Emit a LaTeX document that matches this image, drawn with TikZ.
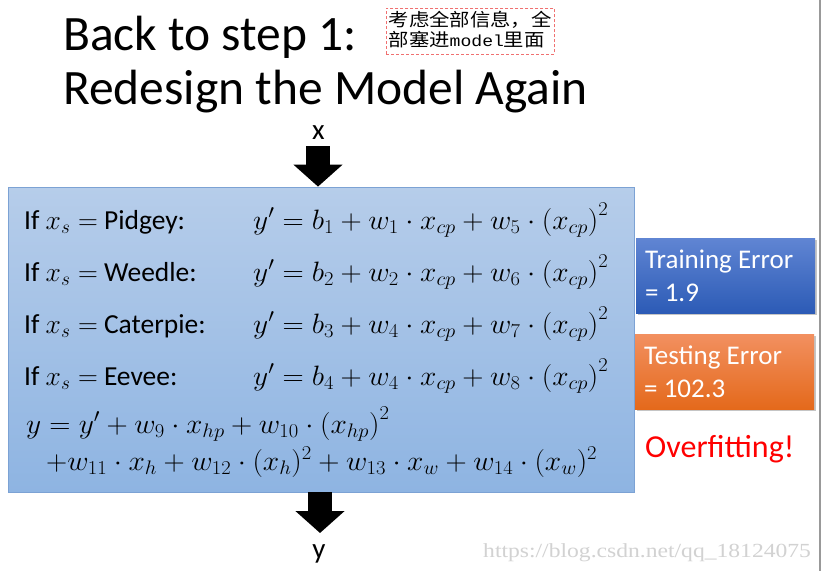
\RequirePackage{fix-cm}
\documentclass[tikz,border=0pt]{standalone}
\usepackage{fontspec}
\usepackage{graphicx}
\setmainfont{Carlito}
\newfontfamily\cjk{Noto Sans CJK SC}
\newfontfamily\wmfont{Liberation Serif}
\newfontfamily\notemono{Liberation Mono}
\usetikzlibrary{shadows,arrows.meta}
\definecolor{boxtop}{HTML}{B6CDEA}
\definecolor{boxbot}{HTML}{8EB4E2}
\definecolor{boxedge}{HTML}{7CA2D4}
\definecolor{traintop}{HTML}{6085D3}
\definecolor{trainbot}{HTML}{2C5BB6}
\definecolor{testtop}{HTML}{F29060}
\definecolor{testbot}{HTML}{E4691B}
\definecolor{wm}{HTML}{D2D2D2}
\definecolor{notered}{HTML}{F07070}
\newcommand{\eqx}[1]{\scalebox{1.05}[1]{$#1$}}
\tikzset{
  rowtext/.style={anchor=base west, inner sep=0pt, font=\fontsize{27.5}{30}\selectfont},
  eqtext/.style={anchor=base west, inner sep=0pt, font=\fontsize{28}{30}\selectfont},
  errbox/.style={rectangle, minimum width=179pt, minimum height=75pt, inner sep=0pt,
     drop shadow={shadow xshift=1.5pt, shadow yshift=-2pt, opacity=0.45}},
  errtext/.style={anchor=base west, inner sep=0pt, text=white, font=\fontsize{27}{30}\selectfont},
  blockarrow/.style={line width=24pt, -{Triangle[length=22pt,width=48pt]}},
  label/.style={inner sep=0pt, font=\fontsize{29}{30}\selectfont},
  notetext/.style={anchor=base west, inner sep=0pt, font=\cjk\fontsize{18}{20}\selectfont},
}
\begin{document}
\begin{tikzpicture}[x=1pt,y=-1pt]
\useasboundingbox (0,0) rectangle (824,571);
\fill[white] (0,0) rectangle (824,571);
% right frame line
\fill[black!40] (818.5,0) rectangle (820.5,571);
% title
\node[anchor=base west, inner sep=0pt, font=\fontsize{49.5}{52}\selectfont] (t1) at (63,50) {Back to step 1:};
\node[anchor=base west, inner sep=0pt, font=\fontsize{49.5}{52}\selectfont] (t2) at (63,104) {Redesign the Model Again};
% chinese note
\node[draw=notered, densely dashed, line width=0.5pt, anchor=north west, minimum width=168pt, minimum height=46pt, inner sep=0pt] (note) at (386,8) {};
\node[notetext] (n1) at (388.5,26) {\scalebox{1.13}[1]{考虑全部信息，全}};
\node[notetext] (n2) at (388.5,46) {\scalebox{1.13}[1]{部塞进{\notemono\fontsize{16}{20}\selectfont model}里面}};
% main box
\node[draw=boxedge, line width=0.8pt, top color=boxtop, bottom color=boxbot, rectangle, minimum width=626pt, minimum height=305pt, inner sep=0pt] (box) at (321,339.5) {};
% x label and arrow
\node[label, anchor=base] (xlab) at (318.5,139) {x};
\coordinate (xtop) at (318,146);
\draw[blockarrow] (xtop) -- (xtop |- box.north);
% y output
\coordinate (ybot) at (320,533);
\draw[blockarrow] (ybot |- box.south) -- (ybot);
\node[label, anchor=base] (ylab) at (319,558) {y};
% rows
\node[rowtext] (c1) at (24,229) {If $x_s=$ Pidgey:};
\node[rowtext] (c2) at (24,281) {If $x_s=$ Weedle:};
\node[rowtext] (c3) at (24,333) {If $x_s=$ Caterpie:};
\node[rowtext] (c4) at (24,385) {If $x_s=$ Eevee:};
\node[eqtext] (e1) at (253,229) {\eqx{y' = b_1 + w_1\cdot x_{cp} + w_5\cdot \bigl(x_{cp}\bigr)^2}};
\node[eqtext] (e2) at (253,281) {\eqx{y' = b_2 + w_2\cdot x_{cp} + w_6\cdot \bigl(x_{cp}\bigr)^2}};
\node[eqtext] (e3) at (253,333) {\eqx{y' = b_3 + w_4\cdot x_{cp} + w_7\cdot \bigl(x_{cp}\bigr)^2}};
\node[eqtext] (e4) at (253,385) {\eqx{y' = b_4 + w_4\cdot x_{cp} + w_8\cdot \bigl(x_{cp}\bigr)^2}};
\node[eqtext] (e5) at (26,433) {\eqx{y = y' + w_9\cdot x_{hp} + w_{10}\cdot \bigl(x_{hp}\bigr)^2}};
\node[eqtext] (e6) at (46,470) {\eqx{+w_{11}\cdot x_h + w_{12}\cdot (x_h)^2 + w_{13}\cdot x_w + w_{14}\cdot (x_w)^2}};
% error boxes
\node[errbox, top color=traintop, bottom color=trainbot, anchor=north west] (train) at (636,238) {};
\node[errtext] (tr1) at (645,268) {Training Error};
\node[errtext] (tr2) at (645,301) {= 1.9};
\node[errbox, top color=testtop, bottom color=testbot, anchor=north west] (test) at (635,334) {};
\node[errtext] (te1) at (644,364) {Testing Error};
\node[errtext] (te2) at (644,397) {= 102.3};
\node[anchor=base west, inner sep=0pt, text=red, font=\fontsize{32}{34}\selectfont] (over) at (645,457) {Overfitting!};
% watermark
\node[anchor=base west, inner sep=0pt, text=wm, font=\wmfont\fontsize{20}{22}\selectfont] (wmk) at (483,557) {\scalebox{1.18}[1]{https://blog.csdn.net/qq\_18124075}};
\end{tikzpicture}
\end{document}
